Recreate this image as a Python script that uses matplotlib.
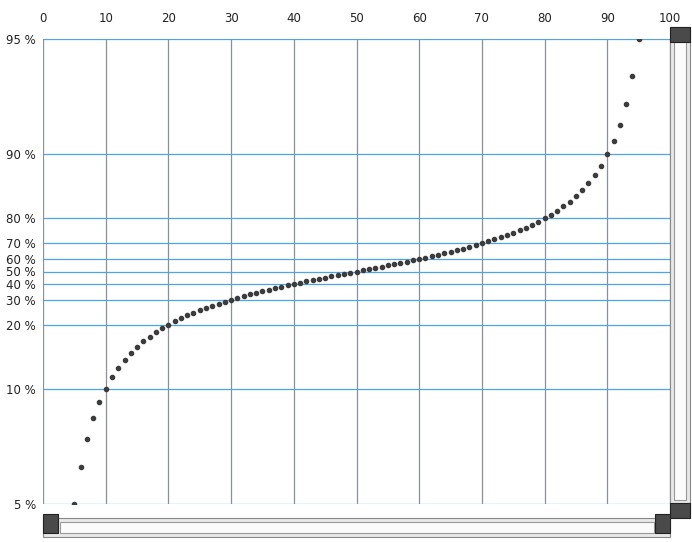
import numpy as np
import matplotlib
matplotlib.use("Agg")
import matplotlib.pyplot as plt
from matplotlib.patches import Rectangle

# data: cumulative percentage vs value
x_values = list(range(5, 96))
y_percent = list(range(5, 96))
x_ticks = [0, 10, 20, 30, 40, 50, 60, 70, 80, 90, 100]
y_ticks = [5, 10, 20, 30, 40, 50, 60, 70, 80, 90, 95]

# smooth probability-like axis fitted to the reference tick spacing
B = 1.56


def forward(v):
    v = np.clip(v, 0.5, 99.5)
    return np.tan(B * (np.asarray(v, float) - 50) / 50)


def inverse(v):
    return 50 + 50 * np.arctan(v) / B


W, H = 692, 542
fig = plt.figure(figsize=(W / 100, H / 100), dpi=100)
ax = fig.add_axes([43 / W, 1 - 504 / H, (670 - 43) / W, (504 - 39) / H])
ax.set_yscale("function", functions=(forward, inverse))
ax.set_xlim(0, 100)
ax.set_ylim(5, 95)
for s in ax.spines.values():
    s.set_visible(False)

for xv in x_ticks:
    ax.axvline(xv, color="#8a9099", lw=0.9, zorder=1)
for yv in y_ticks:
    ax.axhline(yv, color="#4da3f0", lw=0.9, zorder=1)

ax.scatter(x_values, y_percent, s=9, color="#3c3c3c", zorder=3)

ax.xaxis.tick_top()
ax.set_xticks(x_ticks)
ax.set_yticks(y_ticks)
ax.set_yticklabels([f"{v} %" for v in y_ticks])
ax.yaxis.set_minor_locator(matplotlib.ticker.NullLocator())
ax.tick_params(length=0, labelsize=8.5, colors="#222222", pad=5)
ax.tick_params(axis="x", pad=10)

# decorative scrollbars
fig.patches.append(Rectangle((670 / W, 1 - 517 / H), 20 / W, 490 / H,
                             transform=fig.transFigure, facecolor="#e8e8e8", edgecolor="#888888", lw=0.8))
fig.patches.append(Rectangle((674 / W, 1 - 500 / H), 12 / W, 458 / H,
                             transform=fig.transFigure, facecolor="#fbfbfb", edgecolor="#999999", lw=0.8))
fig.patches.append(Rectangle((43 / W, 1 - 537 / H), 627 / W, 19 / H,
                             transform=fig.transFigure, facecolor="#e8e8e8", edgecolor="#888888", lw=0.8))
fig.patches.append(Rectangle((60 / W, 1 - 533 / H), 594 / W, 11 / H,
                             transform=fig.transFigure, facecolor="#fbfbfb", edgecolor="#999999", lw=0.8))
for (bx, by) in [(670, 27), (670, 503), (43, 518), (655, 518)]:
    fig.patches.append(Rectangle((bx / W, 1 - (by + 15) / H), (20 if bx == 670 else 15) / W, (15 if bx == 670 else 19) / H,
                                 transform=fig.transFigure, facecolor="#4a4a4a", edgecolor="#222222", lw=0.8))

fig.savefig("out.png", dpi=100)
